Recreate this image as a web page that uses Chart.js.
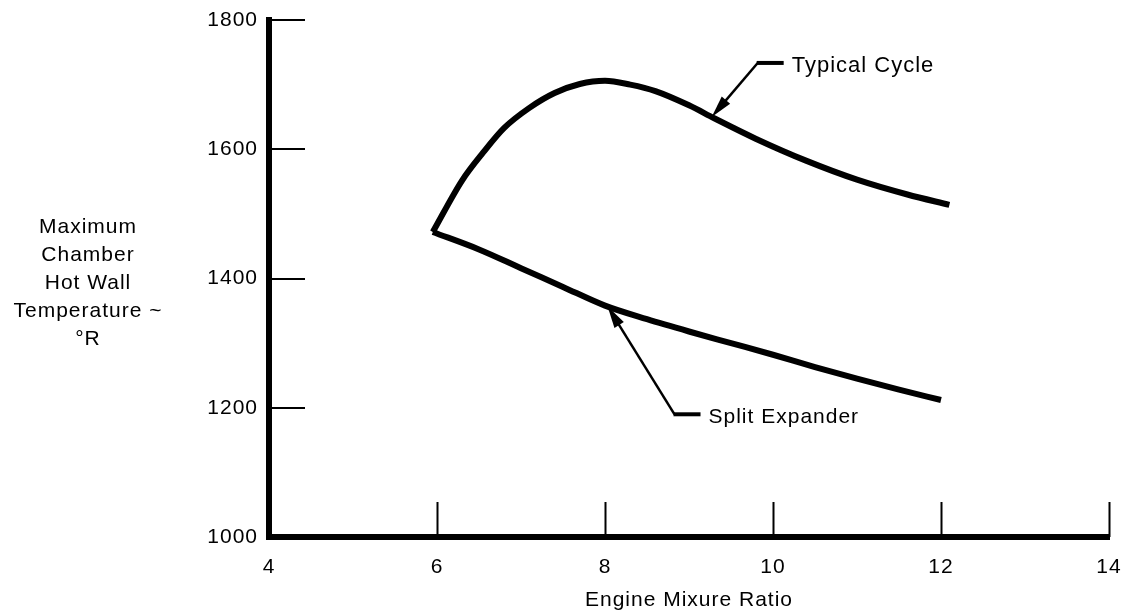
<!DOCTYPE html>
<html>
<head>
<meta charset="utf-8">
<script src="https://cdn.jsdelivr.net/npm/chart.js@4/dist/chart.umd.min.js"></script>
<style>
  body { margin: 0; background: #fff; }
  #wrap { width: 1126px; height: 615px; }
</style>
</head>
<body>
<div id="wrap"><canvas id="myChart" width="1126" height="615"></canvas></div>
<script>
// axis ticks
var xTicks = [4, 6, 8, 10, 12, 14];
var yTicks = [1000, 1200, 1400, 1600, 1800];

// Typical Cycle curve
var typicalX = [5.95, 6.3, 6.55, 6.8, 7.1, 7.4, 7.7, 8.0, 8.3, 8.6, 9.0, 9.3, 9.8, 10.4, 11.0, 11.6, 12.1];
var typicalY = [1472, 1552, 1595, 1633, 1664, 1687, 1701, 1706, 1700, 1690, 1668, 1648, 1616, 1582, 1553, 1530, 1514];

// Split Expander curve
var splitX = [5.95, 6.5, 7, 7.5, 8, 8.5, 9, 9.5, 10, 10.5, 11, 11.5, 12];
var splitY = [1472, 1445, 1416, 1387, 1358, 1337, 1318, 1300, 1282, 1263, 1245, 1228, 1212];

// callouts: text and the point on the curve the arrow hits
var calloutText = ["Typical Cycle", "Split Expander"];
var calloutX = [9.27, 8.03];
var calloutY = [1650, 1357];

var yTitle = ["Maximum", "Chamber", "Hot Wall", "Temperature ~", "°R"];
var xTitle = "Engine Mixure Ratio";

var FONT = "'Liberation Sans', Arial, Helvetica, sans-serif";

function toPoints(xs, ys) {
  return xs.map(function (x, i) { return { x: x, y: ys[i] }; });
}

// tick marks point into the plot, plus the labels and arrows
var extrasPlugin = {
  id: 'extras',
  beforeDraw: function (chart) {
    chart.ctx.letterSpacing = '1px';
  },
  afterDraw: function (chart) {
    var ctx = chart.ctx;
    var xs = chart.scales.x, ys = chart.scales.y;
    var area = chart.chartArea;
    ctx.save();
    ctx.strokeStyle = '#000';
    ctx.fillStyle = '#000';

    // inner ticks
    ctx.lineWidth = 2;
    ctx.beginPath();
    xTicks.forEach(function (v) {
      if (v === xs.min) return;
      var px = Math.round(xs.getPixelForValue(v)) + 0.5;
      ctx.moveTo(px, area.bottom);
      ctx.lineTo(px, area.bottom - 35);
    });
    yTicks.forEach(function (v) {
      if (v === ys.min) return;
      var py = Math.round(ys.getPixelForValue(v));
      ctx.moveTo(area.left, py);
      ctx.lineTo(area.left + 36, py);
    });
    ctx.stroke();

    // y title, horizontal lines of text
    ctx.font = '21px ' + FONT;
    ctx.letterSpacing = '1px';
    ctx.textAlign = 'center';
    ctx.textBaseline = 'middle';
    var midY = (area.top + area.bottom) / 2 + 5;
    yTitle.forEach(function (line, i) {
      ctx.fillText(line, 88, midY + (i - 2) * 28);
    });

    // callouts
    var bends = [[46, -54], [67, 108]];
    calloutText.forEach(function (txt, i) {
      var tx = xs.getPixelForValue(calloutX[i]);
      var ty = ys.getPixelForValue(calloutY[i]);
      var bx = tx + bends[i][0], by = ty + bends[i][1];
      var ang = Math.atan2(ty - by, tx - bx);

      ctx.lineWidth = 2.5;
      ctx.beginPath();
      ctx.moveTo(bx, by);
      ctx.lineTo(tx - Math.cos(ang) * 10, ty - Math.sin(ang) * 10);
      ctx.stroke();

      ctx.lineWidth = 4;
      ctx.beginPath();
      ctx.moveTo(bx - 1, by);
      ctx.lineTo(bx + 26, by);
      ctx.stroke();

      // arrow head
      var len = 22, half = 5.5;
      ctx.beginPath();
      ctx.moveTo(tx, ty);
      ctx.lineTo(tx - Math.cos(ang) * len - Math.sin(ang) * half, ty - Math.sin(ang) * len + Math.cos(ang) * half);
      ctx.lineTo(tx - Math.cos(ang) * len + Math.sin(ang) * half, ty - Math.sin(ang) * len - Math.cos(ang) * half);
      ctx.closePath();
      ctx.fill();

      ctx.textAlign = 'left';
      ctx.font = (i === 0 ? '22px ' : '21px ') + FONT;
      ctx.fillText(txt, bx + 34, by + 3);
    });
    ctx.restore();
  }
};

new Chart(document.getElementById('myChart'), {
  type: 'scatter',
  data: {
    datasets: [{
      label: 'Typical Cycle',
      data: toPoints(typicalX, typicalY),
      showLine: true,
      borderColor: '#000',
      borderWidth: 6,
      pointRadius: 0,
      cubicInterpolationMode: 'monotone'
    }, {
      label: 'Split Expander',
      data: toPoints(splitX, splitY),
      showLine: true,
      borderColor: '#000',
      borderWidth: 6,
      pointRadius: 0,
      cubicInterpolationMode: 'monotone'
    }]
  },
  options: {
    responsive: false,
    devicePixelRatio: 1,
    animation: false,
    layout: { padding: { top: 20, right: 17, left: 0, bottom: 0 } },
    plugins: {
      legend: { display: false },
      tooltip: { enabled: false }
    },
    scales: {
      x: {
        type: 'linear',
        min: 4,
        max: 14,
        afterBuildTicks: function (s) { s.ticks = xTicks.map(function (v) { return { value: v }; }); },
        afterFit: function (s) { s.height = 78; s.paddingLeft = 0; s.paddingRight = 0; },
        grid: { display: false, drawTicks: false },
        border: { display: true, color: '#000', width: 6 },
        ticks: {
          color: '#000',
          padding: 18,
          font: { family: FONT, size: 21 },
          callback: function (v) { return String(v); }
        },
        title: {
          display: true,
          text: xTitle,
          color: '#000',
          font: { family: FONT, size: 21 },
          padding: { top: 0, bottom: 2 }
        }
      },
      y: {
        type: 'linear',
        min: 1000,
        max: 1800,
        afterBuildTicks: function (s) { s.ticks = yTicks.map(function (v) { return { value: v }; }); },
        afterFit: function (s) { s.width = 269; s.paddingTop = 0; s.paddingBottom = 0; },
        grid: { display: false, drawTicks: false },
        border: { display: true, color: '#000', width: 6 },
        ticks: {
          color: '#000',
          padding: 11,
          font: { family: FONT, size: 21 },
          callback: function (v) { return String(v); }
        }
      }
    }
  },
  plugins: [extrasPlugin]
});
</script>
</body>
</html>
